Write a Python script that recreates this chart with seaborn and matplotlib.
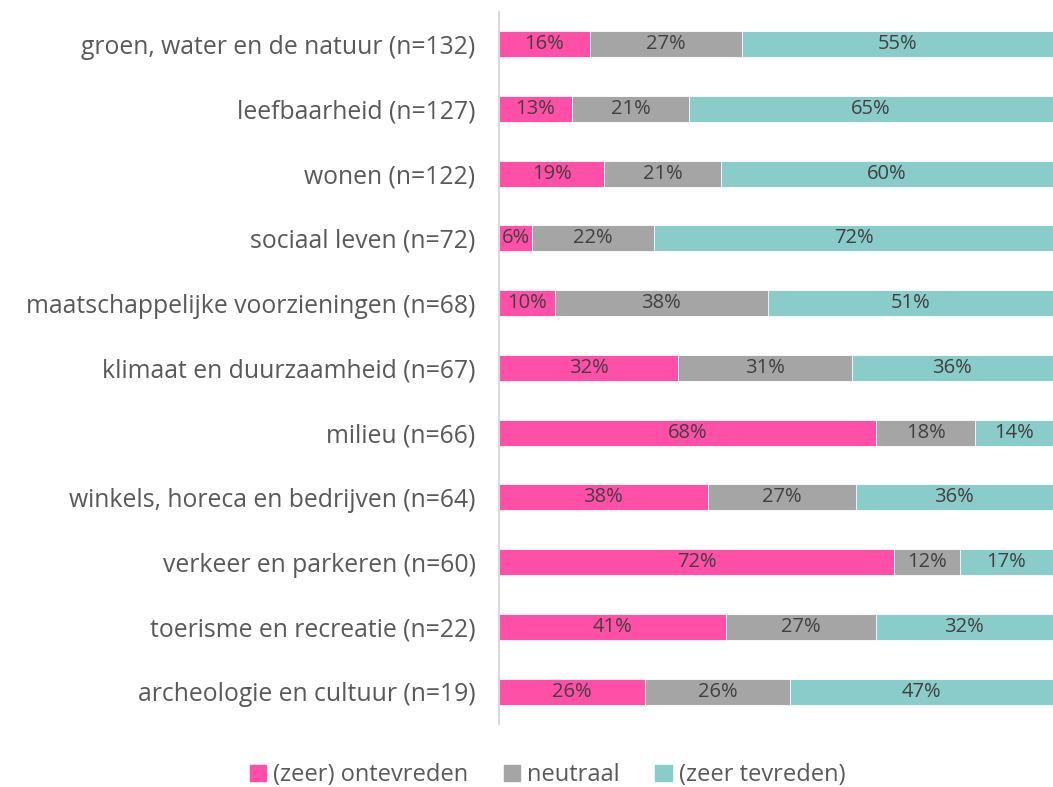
import pandas as pd
import matplotlib
matplotlib.use("Agg")
import matplotlib.pyplot as plt
import seaborn as sns

categories = [
    "groen, water en de natuur (n=132)",
    "leefbaarheid (n=127)",
    "wonen (n=122)",
    "sociaal leven (n=72)",
    "maatschappelijke voorzieningen (n=68)",
    "klimaat en duurzaamheid (n=67)",
    "milieu (n=66)",
    "winkels, horeca en bedrijven (n=64)",
    "verkeer en parkeren (n=60)",
    "toerisme en recreatie (n=22)",
    "archeologie en cultuur (n=19)",
]
ontevreden = [16, 13, 19, 6, 10, 32, 68, 38, 72, 41, 26]
neutraal = [27, 21, 21, 22, 38, 31, 18, 27, 12, 27, 26]
tevreden = [55, 65, 60, 72, 51, 36, 14, 36, 17, 32, 47]
series_names = ["(zeer) ontevreden", "neutraal", "(zeer tevreden)"]
colors = ["#FF4FA7", "#A5A5A5", "#8ACCC9"]

sns.set_theme(style="white")
plt.rcParams["font.family"] = ["Open Sans", "DejaVu Sans"]

df = pd.DataFrame({"cat": categories, "o": ontevreden, "n": neutraal, "t": tevreden})
tot = df["o"] + df["n"] + df["t"]
# bars are drawn as shares of 100%
df["c1"] = df["o"] / tot * 100
df["c2"] = (df["o"] + df["n"]) / tot * 100
df["c3"] = 100.0

fig = plt.figure(figsize=(10.53, 7.87), dpi=100)
ax = fig.add_axes([0.474, 0.08, 0.526, 0.905])

for col, color in zip(["c3", "c2", "c1"], colors[::-1]):
    sns.barplot(data=df, x=col, y="cat", orient="h", color=color, width=0.4,
                edgecolor="white", linewidth=0.6, saturation=1, ax=ax)

starts = [[0] * len(df), df["c1"], df["c2"]]
widths = [df["c1"], df["c2"] - df["c1"], df["c3"] - df["c2"]]
values = [ontevreden, neutraal, tevreden]
for s, w, v in zip(starts, widths, values):
    for i in range(len(df)):
        ax.text(s[i] + w[i] / 2, i, f"{v[i]}%", ha="center", va="center",
                fontsize=14.5, color="#404040")

ax.set_xlim(0, 100)
ax.set_ylim(len(df) - 0.5, -0.5)
ax.set_xlabel("")
ax.set_ylabel("")
ax.set_xticks([])
ax.tick_params(axis="y", length=0, pad=17, labelsize=17.8, labelcolor="#595959")
for sp in ["top", "right", "bottom"]:
    ax.spines[sp].set_visible(False)
ax.spines["left"].set_color("#D9D9D9")
ax.spines["left"].set_linewidth(1.5)

handles = [plt.Rectangle((0, 0), 1, 1, color=c) for c in colors]
fig.legend(handles, series_names, loc="center", bbox_to_anchor=(0.52, 0.015),
           ncol=3, frameon=False, fontsize=17, handlelength=0.7, handleheight=0.7,
           handletextpad=0.3, columnspacing=1.5, labelcolor="#595959")

fig.savefig("out.png", dpi=100)
